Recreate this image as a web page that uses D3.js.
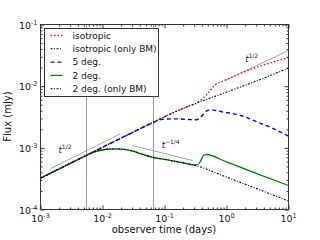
<!DOCTYPE html>
<html>
<head>
<meta charset="utf-8">
<script src="https://cdn.jsdelivr.net/npm/d3@7"></script>
<style>
  body { margin: 0; background: #fff; }
  text { font-family: "DejaVu Sans", sans-serif; }
</style>
</head>
<body>
<div class="graph"></div>
<script>
// light curves (time in days, flux in mJy)
var isoTime = [0.001, 0.01, 0.06, 0.1, 0.26, 0.34, 0.42, 0.5, 0.66, 0.9, 1.7, 3.2, 10];
var isoFlux = [3.22e-4, 1.02e-3, 2.48e-3, 3.2e-3, 4.85e-3, 5.4e-3, 6.4e-3, 7.6e-3, 1.05e-2, 1.22e-2, 1.62e-2, 2.05e-2, 2.9e-2];

var isoBmTime = [0.001, 0.01, 0.06, 0.1, 0.26, 0.9, 3.2, 10];
var isoBmFlux = [3.22e-4, 1.02e-3, 2.48e-3, 3.2e-3, 4.85e-3, 7.7e-3, 1.24e-2, 1.95e-2];

var fiveTime = [0.001, 0.01, 0.03, 0.06, 0.08, 0.1, 0.15, 0.25, 0.33, 0.4, 0.47, 0.55, 0.65, 0.9, 1.7, 3.2, 5.7, 10];
var fiveFlux = [3.22e-4, 1.02e-3, 1.76e-3, 2.48e-3, 2.8e-3, 2.92e-3, 2.95e-3, 2.88e-3, 2.85e-3, 3.3e-3, 3.9e-3, 4.15e-3, 4.05e-3, 3.8e-3, 3.35e-3, 2.6e-3, 2.05e-3, 1.55e-3];

var twoTime = [0.001, 0.002, 0.004, 0.006, 0.008, 0.011, 0.015, 0.02, 0.03, 0.045, 0.065, 0.1, 0.2, 0.29, 0.33, 0.38, 0.42, 0.47, 1, 3, 10];
var twoFlux = [3.22e-4, 4.55e-4, 6.44e-4, 7.85e-4, 8.8e-4, 9.4e-4, 9.6e-4, 9.55e-4, 8.9e-4, 7.8e-4, 7.0e-4, 6.5e-4, 5.7e-4, 5.3e-4, 5.3e-4, 6.0e-4, 7.4e-4, 7.8e-4, 5.9e-4, 3.85e-4, 2.45e-4];

var twoBmTime = [0.001, 0.002, 0.004, 0.006, 0.008, 0.011, 0.015, 0.02, 0.03, 0.045, 0.065, 0.1, 0.2, 0.29, 1, 3, 10];
var twoBmFlux = [3.22e-4, 4.55e-4, 6.44e-4, 7.85e-4, 8.8e-4, 9.4e-4, 9.6e-4, 9.55e-4, 8.9e-4, 7.8e-4, 7.0e-4, 6.5e-4, 5.7e-4, 5.3e-4, 3.35e-4, 2.2e-4, 1.37e-4];

// vertical markers and power-law guides
var markerTimes = [0.0055, 0.0665];
var guideLabels = ["1/2", "\u22121/4", "1/2"];
var guideStart = [[1.45e-3, 4.6e-4], [0.0305, 1.09e-3], [0.964, 1.24e-2]];
var guideEnd = [[0.0195, 1.69e-3], [0.283, 6.23e-4], [10, 3.8e-2]];
var guideLabelAt = [[0.00195, 8.1e-4], [0.09, 1.0e-3], [2.0, 2.5e-2]];

var legendLabels = ["isotropic", "isotropic (only BM)", "5 deg.", "2 deg.", "2 deg. (only BM)"];
var xTickLabels = ["-3", "-2", "-1", "0", "1"];
var yTickLabels = ["-4", "-3", "-2", "-1"];

var margin = {top: 24, left: 40, right: 32, bottom: 31};
var width = 320, height = 240;
var w = width - margin.left - margin.right,
    h = height - margin.top - margin.bottom;

var svg = d3.select(".graph").append("svg")
    .attr("width", width)
    .attr("height", height);

var g = svg.append("g")
    .attr("transform", "translate(" + (margin.left + 0.5) + "," + (margin.top + 0.5) + ")");

var xScale = d3.scaleLog().domain([1e-3, 10]).range([0, w]);
var yScale = d3.scaleLog().domain([1e-4, 1e-1]).range([h, 0]);

var isMajor = function(d) { return Math.abs(Math.log10(d) - Math.round(Math.log10(d))) < 1e-6; };
var xMajor = xScale.ticks().filter(isMajor), xMinor = xScale.ticks().filter(function(d) { return !isMajor(d); });
var yMajor = yScale.ticks().filter(isMajor), yMinor = yScale.ticks().filter(function(d) { return !isMajor(d); });

// vertical markers
g.selectAll(".marker").data(markerTimes).enter().append("line")
    .attr("class", "marker")
    .attr("x1", function(d) { return Math.round(xScale(d)); })
    .attr("x2", function(d) { return Math.round(xScale(d)); })
    .attr("y1", 0).attr("y2", h)
    .attr("stroke", "#999").attr("stroke-width", 1);

// power-law guides
g.selectAll(".guide").data(guideStart).enter().append("line")
    .attr("class", "guide")
    .attr("x1", function(d) { return xScale(d[0]); })
    .attr("y1", function(d) { return yScale(d[1]); })
    .attr("x2", function(d, i) { return xScale(guideEnd[i][0]); })
    .attr("y2", function(d, i) { return yScale(guideEnd[i][1]); })
    .attr("stroke", "#a0a0a0").attr("stroke-width", 1);

var gl = g.selectAll(".guide-label").data(guideLabels).enter().append("text")
    .attr("class", "guide-label")
    .attr("x", function(d, i) { return xScale(guideLabelAt[i][0]); })
    .attr("y", function(d, i) { return yScale(guideLabelAt[i][1]); })
    .attr("font-size", 8.5).attr("fill", "#222");
gl.append("tspan").attr("font-style", "italic").text("t");
gl.append("tspan").attr("dy", -4).attr("font-size", 6).text(function(d) { return d; });

// curves
var line = d3.line()
    .x(function(d) { return xScale(d[0]); })
    .y(function(d) { return yScale(d[1]); })
    .curve(d3.curveMonotoneX);

function series(times, fluxes, color, dash, lw) {
  g.append("path")
      .datum(times.map(function(t, i) { return [t, fluxes[i]]; }))
      .attr("d", line)
      .attr("fill", "none")
      .attr("stroke", color)
      .attr("stroke-width", lw)
      .attr("stroke-dasharray", dash);
}

var styles = [
  {color: "#ff0000", dash: "1.5,2", lw: 1.3},
  {color: "#000", dash: "2,1.5,1,1.5", lw: 1.1},
  {color: "#0000ff", dash: "4,3", lw: 1.4},
  {color: "#008000", dash: null, lw: 1.3},
  {color: "#000", dash: "2,1.5,1,1.5", lw: 1.1}
];

series(isoTime, isoFlux, styles[0].color, styles[0].dash, styles[0].lw);
series(isoBmTime, isoBmFlux, styles[1].color, styles[1].dash, styles[1].lw);
series(fiveTime, fiveFlux, styles[2].color, styles[2].dash, styles[2].lw);
series(twoTime, twoFlux, styles[3].color, styles[3].dash, styles[3].lw);
series(twoBmTime, twoBmFlux, styles[4].color, styles[4].dash, styles[4].lw);

// axes: inward ticks on all four sides
function tickAxis(axisFn, scale, values, size, transform) {
  var a = g.append("g").attr("transform", transform)
      .call(axisFn(scale).tickValues(values).tickSize(size).tickFormat(""));
  a.select(".domain").remove();
  a.selectAll(".tick line").attr("stroke", "#000").attr("stroke-width", 0.8);
  return a;
}
tickAxis(d3.axisBottom, xScale, xMajor, -4, "translate(0," + h + ")");
tickAxis(d3.axisBottom, xScale, xMinor, -2, "translate(0," + h + ")");
tickAxis(d3.axisTop, xScale, xMajor, -4, "translate(0,0)");
tickAxis(d3.axisTop, xScale, xMinor, -2, "translate(0,0)");
tickAxis(d3.axisLeft, yScale, yMajor, -4, "translate(0,0)");
tickAxis(d3.axisLeft, yScale, yMinor, -2, "translate(0,0)");
tickAxis(d3.axisRight, yScale, yMajor, -4, "translate(" + w + ",0)");
tickAxis(d3.axisRight, yScale, yMinor, -2, "translate(" + w + ",0)");

g.append("rect")
    .attr("width", w).attr("height", h)
    .attr("fill", "none").attr("stroke", "#333").attr("stroke-width", 1);

// tick labels 10^n
var xl = g.selectAll(".x-label").data(xMajor).enter().append("text")
    .attr("class", "x-label")
    .attr("x", function(d) { return xScale(d); })
    .attr("y", h + 12)
    .attr("text-anchor", "middle")
    .attr("font-size", 9.5).attr("fill", "#111");
xl.append("tspan").text("10");
xl.append("tspan").attr("dy", -4).attr("font-size", 6.5).text(function(d, i) { return xTickLabels[i]; });

var yl = g.selectAll(".y-label").data(yMajor).enter().append("text")
    .attr("class", "y-label")
    .attr("x", -3)
    .attr("y", function(d) { return yScale(d) + 4; })
    .attr("text-anchor", "end")
    .attr("font-size", 9.5).attr("fill", "#111");
yl.append("tspan").text("10");
yl.append("tspan").attr("dy", -4).attr("font-size", 6.5).text(function(d, i) { return yTickLabels[i]; });

// axis titles
svg.append("text")
    .attr("x", margin.left + w / 2).attr("y", 233)
    .attr("text-anchor", "middle").attr("font-size", 10).attr("fill", "#111")
    .text("observer time (days)");
svg.append("text")
    .attr("transform", "translate(11," + (margin.top + h / 2) + ") rotate(-90)")
    .attr("text-anchor", "middle").attr("font-size", 10).attr("fill", "#111")
    .text("Flux (mJy)");

// legend
var legend = svg.append("g").attr("transform", "translate(44.5,28.5)");
legend.append("rect")
    .attr("width", 114).attr("height", 68)
    .attr("fill", "#fff").attr("stroke", "#333").attr("stroke-width", 1);
var item = legend.selectAll(".item").data(legendLabels).enter().append("g")
    .attr("class", "item")
    .attr("transform", function(d, i) { return "translate(0," + (7 + i * 13.3) + ")"; });
item.append("line")
    .attr("x1", 6).attr("x2", 18).attr("y1", 0).attr("y2", 0)
    .attr("stroke", function(d, i) { return styles[i].color; })
    .attr("stroke-width", function(d, i) { return styles[i].lw; })
    .attr("stroke-dasharray", function(d, i) { return styles[i].dash; });
item.append("text")
    .attr("x", 28).attr("y", 3.3)
    .attr("font-size", 9).attr("fill", "#111")
    .text(function(d) { return d; });
</script>
</body>
</html>
